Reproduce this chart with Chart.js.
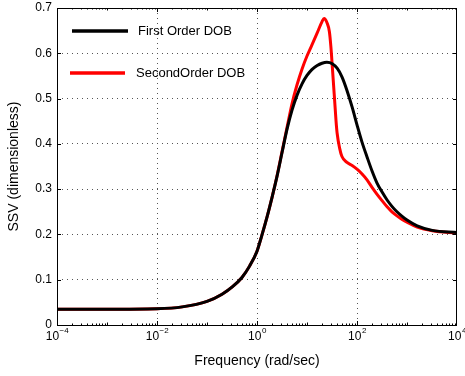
<!DOCTYPE html>
<html>
<head>
<meta charset="utf-8">
<script src="https://cdn.jsdelivr.net/npm/chart.js@4.4.0/dist/chart.umd.min.js"></script>
<style>
  html, body { margin: 0; padding: 0; background: #fff; }
  canvas { display: block; }
</style>
</head>
<body>
<canvas id="chartSsv" width="465" height="376"></canvas>
<script>
// ── Datos ──
const freqsFirst  = [1e-4, 1e-3, 1e-2, 0.032, 0.1, 0.2, 0.32, 0.5, 0.71, 1, 1.25, 1.6, 2, 2.5, 3.2, 4, 5, 6.3, 8, 10, 12.5, 16, 20, 25, 32, 40, 50, 63, 80, 100, 125, 160, 200, 250, 320, 400, 500, 630, 800, 1000, 1600, 3200, 10000];
const firstOrder  = [0.035, 0.035, 0.036, 0.040, 0.052, 0.068, 0.084, 0.105, 0.130, 0.163, 0.198, 0.240, 0.282, 0.327, 0.383, 0.433, 0.474, 0.507, 0.533, 0.551, 0.564, 0.573, 0.578, 0.580, 0.577, 0.567, 0.548, 0.518, 0.481, 0.442, 0.405, 0.370, 0.340, 0.314, 0.293, 0.276, 0.262, 0.250, 0.240, 0.232, 0.219, 0.209, 0.204];
const freqsSecond = [1e-4, 1e-3, 1e-2, 0.032, 0.1, 0.2, 0.32, 0.5, 0.71, 1, 1.25, 1.6, 2, 2.5, 3.2, 4, 5, 6.3, 8, 10, 12.5, 16, 20, 22, 25, 28, 30, 32, 35, 38, 40, 45, 50, 63, 80, 100, 125, 160, 200, 250, 320, 400, 500, 630, 800, 1000, 1600, 3200, 10000];
const secondOrder = [0.035, 0.035, 0.036, 0.040, 0.052, 0.068, 0.084, 0.105, 0.130, 0.163, 0.198, 0.240, 0.282, 0.328, 0.385, 0.437, 0.488, 0.530, 0.566, 0.594, 0.618, 0.645, 0.670, 0.677, 0.668, 0.648, 0.615, 0.572, 0.510, 0.452, 0.424, 0.390, 0.372, 0.359, 0.352, 0.344, 0.334, 0.320, 0.304, 0.289, 0.274, 0.261, 0.250, 0.241, 0.233, 0.227, 0.216, 0.208, 0.203];
const seriesNames = ['First Order DOB', 'SecondOrder DOB'];
const xMajor      = [1e-4, 1e-2, 1, 1e2, 1e4];
const xExponents  = ['−4', '−2', '0', '2', '4'];
const yTicks      = [0, 0.1, 0.2, 0.3, 0.4, 0.5, 0.6, 0.7];

const FONT = '"Liberation Sans", Arial, Helvetica, sans-serif';

const toPts = (xs, vals) => xs.map((f, i) => ({ x: f, y: vals[i] }));

// ── Plugin: caja, ticks, etiquetas y leyenda estilo MATLAB ──
const matlabAxes = {
  id: 'matlabAxes',
  afterDraw(chart) {
    const { ctx, chartArea: a, scales: { x, y } } = chart;
    ctx.save();
    // caja
    ctx.strokeStyle = '#000';
    ctx.lineWidth = 1;
    ctx.strokeRect(a.left + 0.5, a.top + 0.5, a.right - a.left - 1, a.bottom - a.top);

    // ticks menores en x (arriba y abajo)
    ctx.beginPath();
    for (let d = -4; d < 4; d++) {
      for (let k = 1; k <= 9; k++) {
        const v = k * Math.pow(10, d);
        const px = Math.round(x.getPixelForValue(v)) + 0.5;
        const len = (k === 1) ? (d % 2 === 0 ? 4 : 2.5) : 1.5;
        ctx.moveTo(px, a.bottom); ctx.lineTo(px, a.bottom - len);
        ctx.moveTo(px, a.top); ctx.lineTo(px, a.top + len);
      }
    }
    // ticks en y (izquierda y derecha)
    yTicks.forEach(v => {
      const py = Math.round(y.getPixelForValue(v)) + 0.5;
      ctx.moveTo(a.left, py); ctx.lineTo(a.left + 4, py);
      ctx.moveTo(a.right, py); ctx.lineTo(a.right - 4, py);
    });
    ctx.stroke();

    // etiquetas y
    ctx.fillStyle = '#000';
    ctx.font = '12px ' + FONT;
    ctx.textAlign = 'right';
    ctx.textBaseline = 'middle';
    yTicks.forEach(v => {
      ctx.fillText(v === 0 ? '0' : v.toFixed(1), a.left - 5, y.getPixelForValue(v));
    });

    // etiquetas x con superíndice
    ctx.textBaseline = 'alphabetic';
    xMajor.forEach((v, i) => {
      const px = x.getPixelForValue(v);
      ctx.font = '12px ' + FONT;
      const wBase = ctx.measureText('10').width;
      ctx.font = '8px ' + FONT;
      const wExp = ctx.measureText(xExponents[i]).width;
      const x0 = px - (wBase + wExp) / 2;
      ctx.textAlign = 'left';
      ctx.font = '12px ' + FONT;
      ctx.fillText('10', x0, a.bottom + 15);
      ctx.font = '8px ' + FONT;
      ctx.fillText(xExponents[i], x0 + wBase + 0.5, a.bottom + 8);
    });

    // títulos de ejes
    ctx.font = '14px ' + FONT;
    ctx.textAlign = 'center';
    ctx.fillText('Frequency (rad/sec)', (a.left + a.right) / 2, a.bottom + 40);
    ctx.save();
    ctx.translate(18, (a.top + a.bottom) / 2);
    ctx.rotate(-Math.PI / 2);
    ctx.fillText('SSV (dimensionless)', 0, 0);
    ctx.restore();

    // leyenda
    const legendRows = [{ y: 31, x1: 72, x2: 128, tx: 138 }, { y: 73, x1: 70, x2: 125, tx: 136 }];
    chart.data.datasets.forEach((ds, i) => {
      const r = legendRows[i];
      ctx.strokeStyle = ds.borderColor;
      ctx.lineWidth = 3.5;
      ctx.beginPath();
      ctx.moveTo(r.x1, r.y); ctx.lineTo(r.x2, r.y);
      ctx.stroke();
      ctx.fillStyle = '#000';
      ctx.font = '13px ' + FONT;
      ctx.textAlign = 'left';
      ctx.textBaseline = 'middle';
      ctx.fillText(ds.label, r.tx, r.y);
    });
    ctx.restore();
  }
};

const gridColor = edgeVals => ctx => {
  const v = ctx.tick && ctx.tick.value;
  return edgeVals.includes(v) ? 'rgba(0,0,0,0)' : '#555';
};

new Chart(document.getElementById('chartSsv'), {
  type: 'line',
  data: {
    datasets: [
      { label: seriesNames[0], data: toPts(freqsFirst, firstOrder), borderColor: '#000000', borderWidth: 3, pointRadius: 0, cubicInterpolationMode: 'monotone', fill: false },
      { label: seriesNames[1], data: toPts(freqsSecond, secondOrder), borderColor: '#ff0000', borderWidth: 3, pointRadius: 0, cubicInterpolationMode: 'monotone', fill: false }
    ]
  },
  options: {
    responsive: false,
    animation: false,
    events: [],
    layout: { padding: { left: 57, top: 8, right: 8, bottom: 51 } },
    plugins: { legend: { display: false }, tooltip: { enabled: false } },
    scales: {
      x: {
        type: 'logarithmic', min: 1e-4, max: 1e4,
        afterBuildTicks: s => { s.ticks = xMajor.map(v => ({ value: v })); },
        ticks: { display: false },
        grid: { drawTicks: false, color: gridColor([1e-4, 1e4]), lineWidth: 1 },
        border: { display: false, dash: [1, 4] }
      },
      y: {
        min: 0, max: 0.7,
        afterBuildTicks: s => { s.ticks = yTicks.map(v => ({ value: v })); },
        ticks: { display: false },
        grid: { drawTicks: false, color: gridColor([0, 0.7]), lineWidth: 1 },
        border: { display: false, dash: [1, 4] }
      }
    }
  },
  plugins: [matlabAxes]
});
</script>
</body>
</html>
